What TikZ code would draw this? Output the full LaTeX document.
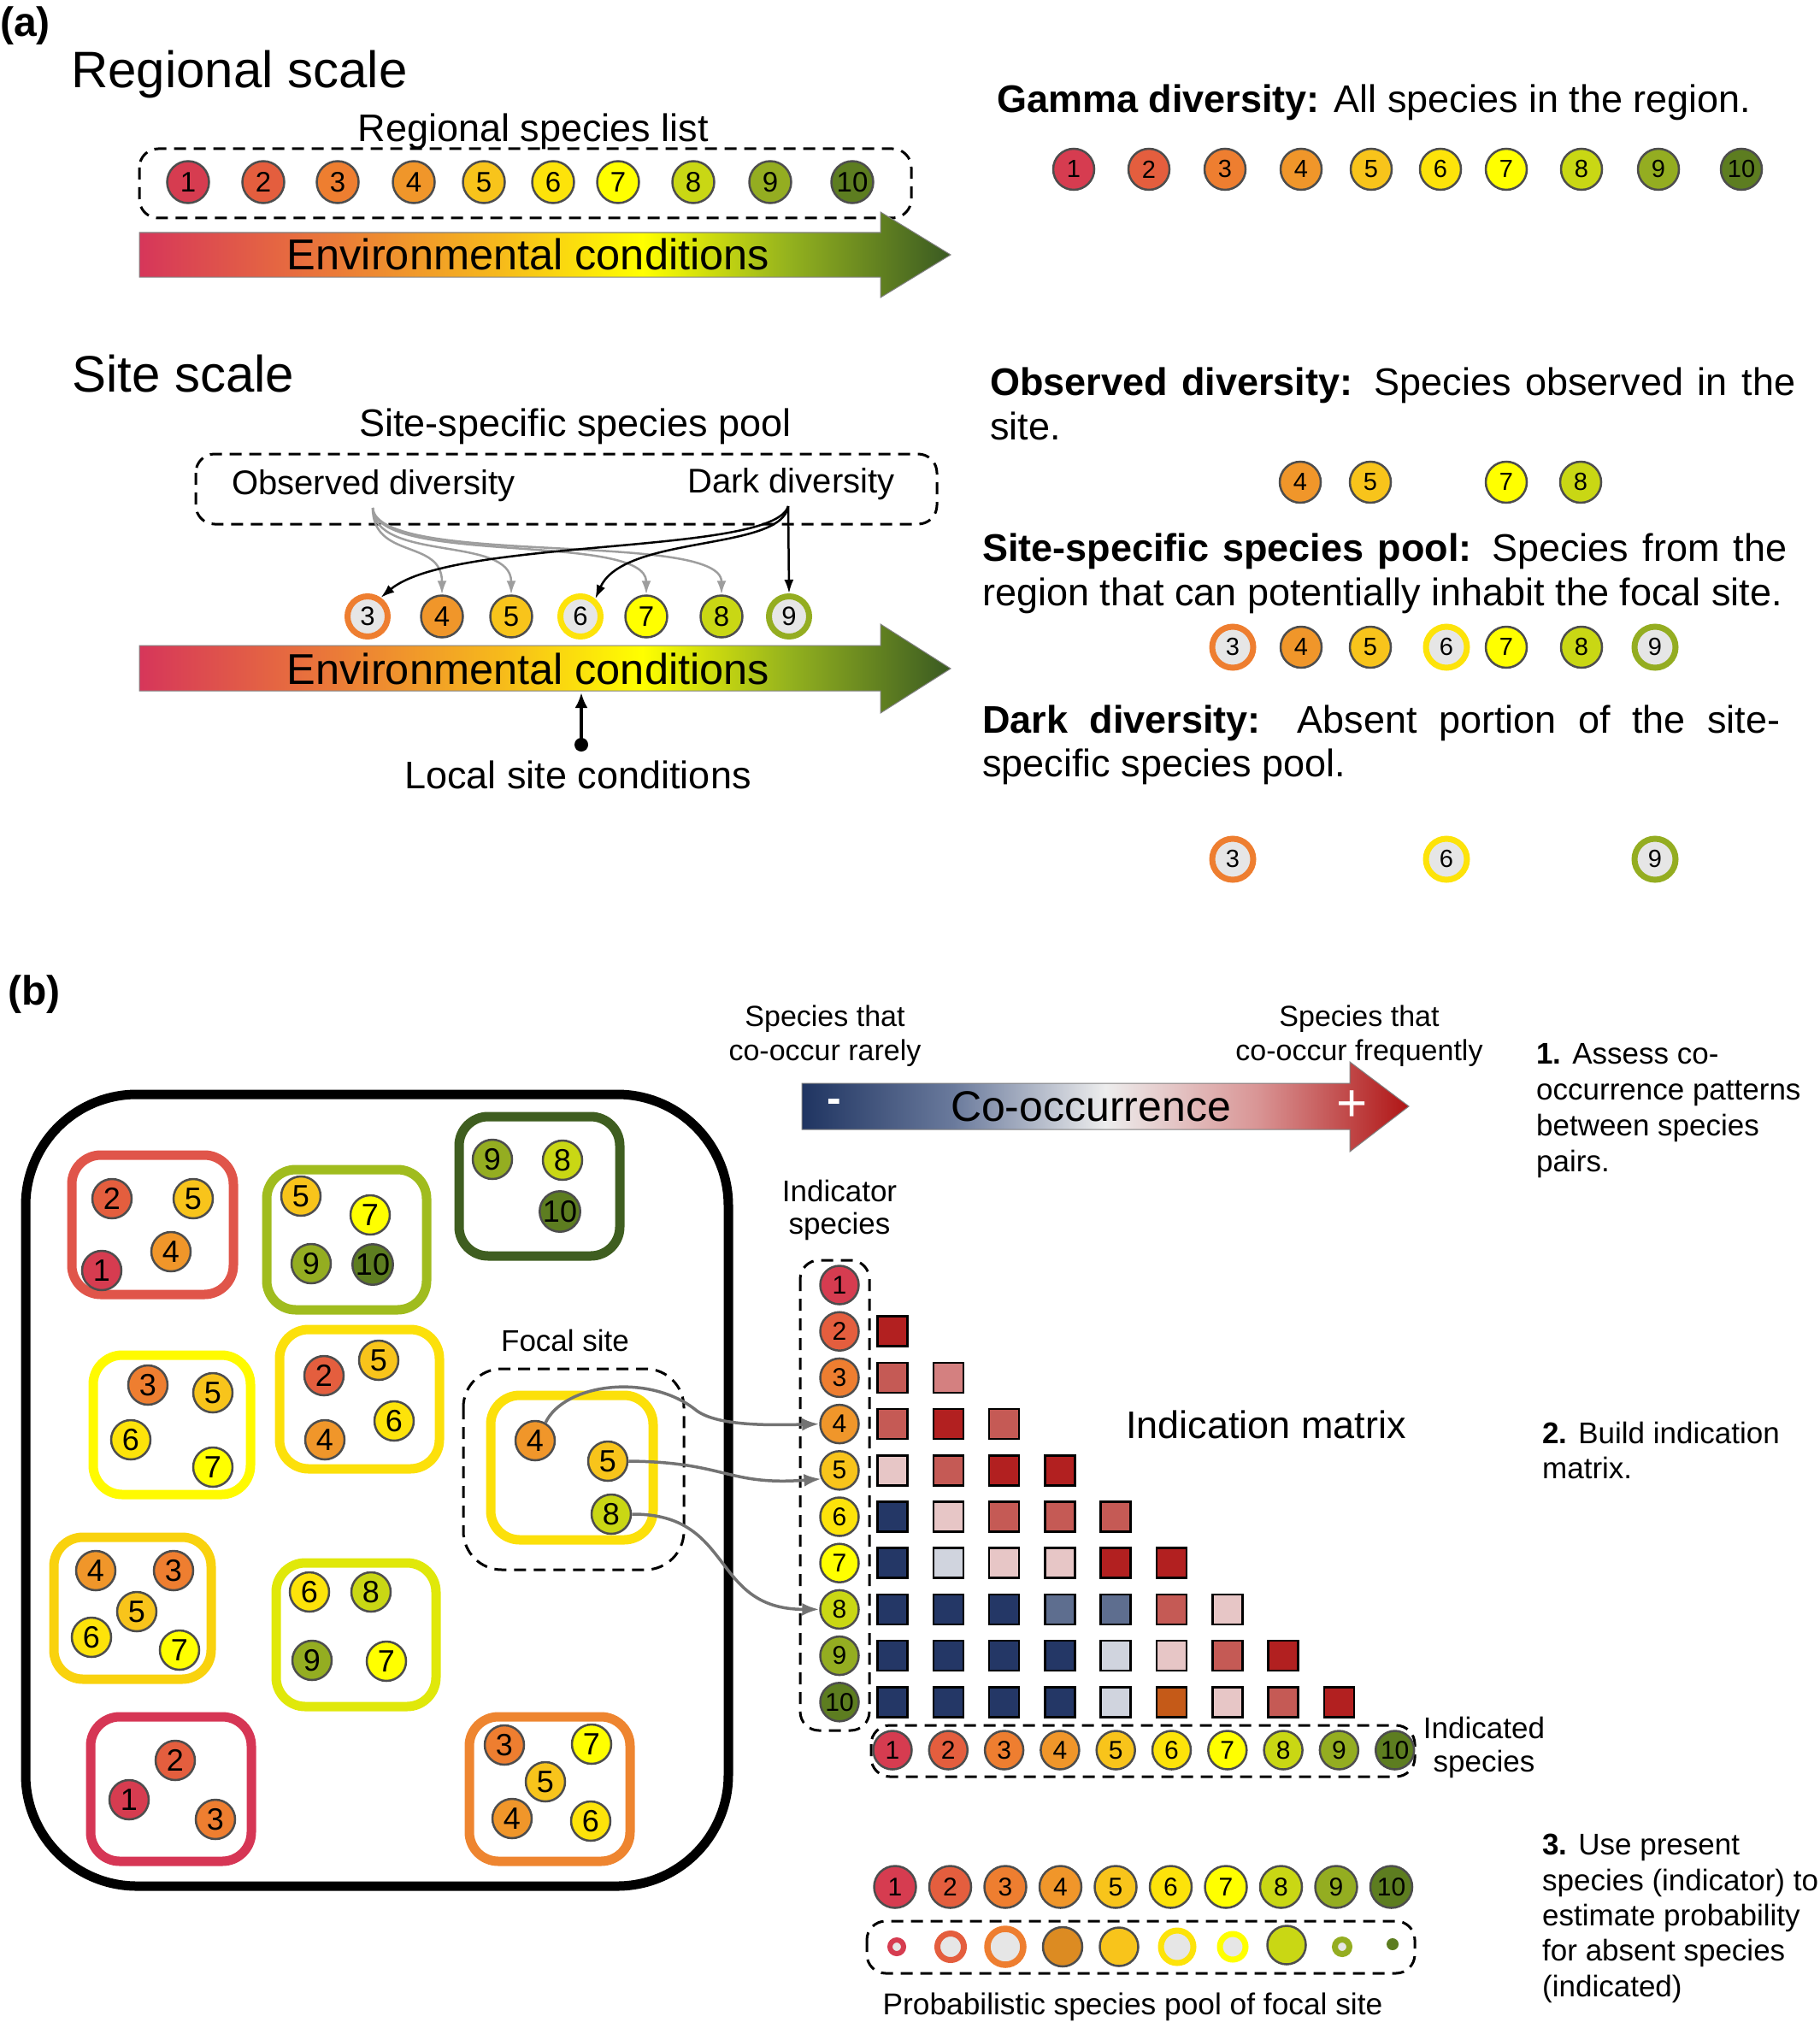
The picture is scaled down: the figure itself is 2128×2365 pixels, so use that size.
\documentclass[tikz,border=0pt]{standalone}
\usepackage{fontspec}
\setmainfont{Liberation Sans}
\usetikzlibrary{arrows.meta}
\newcommand\fsz[2]{\fontsize{#1}{#2}\selectfont}
\definecolor{c1}{HTML}{D63C50}
\definecolor{c2}{HTML}{E45E3E}
\definecolor{c3}{HTML}{EE7E30}
\definecolor{c4}{HTML}{F0962A}
\definecolor{c5}{HTML}{F8C41B}
\definecolor{c6}{HTML}{FDE30A}
\definecolor{c7}{HTML}{FFFF00}
\definecolor{c8}{HTML}{C9D714}
\definecolor{c9}{HTML}{94AD21}
\definecolor{c10}{HTML}{5D7D20}
\definecolor{cgray}{HTML}{4D4D4D}
\definecolor{hol}{HTML}{E6E6E6}
\definecolor{mR}{HTML}{B22020}
\definecolor{mM}{HTML}{C55A55}
\definecolor{mL}{HTML}{D48080}
\definecolor{mP}{HTML}{E7C6C6}
\definecolor{mN}{HTML}{243766}
\definecolor{mS}{HTML}{5E6E8F}
\definecolor{mG}{HTML}{D0D4DE}
\definecolor{mO}{HTML}{C55A18}
\definecolor{p4}{HTML}{DC8B22}
\definecolor{bxRed}{HTML}{E0554A}
\definecolor{bxOlive}{HTML}{A0BC1E}
\definecolor{bxDark}{HTML}{3F5E20}
\definecolor{bxYel}{HTML}{FFFA00}
\definecolor{bxGold}{HTML}{FCE00A}
\definecolor{bxGold2}{HTML}{F9D20E}
\definecolor{bxLime}{HTML}{E0E80A}
\definecolor{bxCrim}{HTML}{D63655}
\definecolor{bxOr}{HTML}{EE8530}
\definecolor{e1}{HTML}{D6365A}
\definecolor{e2}{HTML}{EB7A38}
\definecolor{e3}{HTML}{F6B81C}
\definecolor{e4}{HTML}{FFFF00}
\definecolor{e5}{HTML}{94B21E}
\definecolor{e6}{HTML}{3A5A22}
\pgfdeclarehorizontalshading{envshade}{100bp}{color(0bp)=(e1); color(25bp)=(e1); color(37bp)=(e2); color(47bp)=(e3); color(56bp)=(e4); color(65bp)=(e5); color(75bp)=(e6); color(100bp)=(e6)}
\definecolor{k1}{HTML}{1F3461}
\definecolor{k2}{HTML}{6A7A9C}
\definecolor{k3}{HTML}{EDEDED}
\definecolor{k4}{HTML}{D99595}
\definecolor{k5}{HTML}{B01515}
\pgfdeclarehorizontalshading{cooshade}{100bp}{color(0bp)=(k1); color(25bp)=(k1); color(37.5bp)=(k2); color(50bp)=(k3); color(62.5bp)=(k4); color(75bp)=(k5); color(100bp)=(k5)}
\begin{document}
\begin{tikzpicture}[x=1pt,y=-1pt,
  txt/.style={inner sep=0pt, anchor=base},
  txw/.style={inner sep=0pt, anchor=base west},
  sp/.style={circle, draw=cgray, line width=2.5pt, inner sep=0pt, text=black},
  spA/.style={sp, minimum size=49pt, font=\fsz{33}{33}},
  spR/.style={sp, minimum size=48pt, font=\fsz{29}{29}},
  ringA/.style={circle, fill=hol, line width=7pt, inner sep=0pt, minimum size=47pt, font=\fsz{31}{31}},
  ringR/.style={circle, fill=hol, line width=7pt, inner sep=0pt, minimum size=48pt, font=\fsz{29}{29}},
  spB/.style={sp, minimum size=46pt, font=\fsz{36}{36}},
  spM/.style={sp, minimum size=45pt, font=\fsz{30}{30}},
  spP/.style={sp, minimum size=49pt, font=\fsz{30}{30}},
  ringP/.style={circle, fill=hol, line width=7pt, inner sep=0pt},
  sq/.style={draw=black, line width=2.5pt, minimum size=35pt, inner sep=0pt},
  dbox/.style={draw=black, line width=3pt, dash pattern=on 14pt off 9pt, rounded corners=22pt},
  site/.style={line width=11pt, rounded corners=34pt},
  garr/.style={draw=black!38, line width=2.5pt, -{Latex[length=16pt,width=11pt]}},
  barr/.style={draw=black, line width=2.5pt, -{Latex[length=16pt,width=11pt]}},
  farr/.style={draw=black!55, line width=3.5pt, -{Latex[length=20pt,width=15pt]}},
  stp/.style={txw, font=\fsz{35}{42}},
  rt/.style={txw, font=\fsz{45}{53}}
]
\useasboundingbox (0,0) rectangle (2128,2365);

% ================= Panel (a) =================
\node[txw, font=\bfseries\fsz{48}{48}] (lbla) at (0,43) {(a)};
\node[txw, font=\fsz{60}{60}] (regscale) at (83,103) {Regional scale};
\node[txt, font=\fsz{45}{45}] (reglist) at (624,166) {Regional species list};
\draw[dbox] (163,174) rectangle (1066,255);
\foreach \i/\x in {1/220,2/308,3/395,4/484,5/566,6/647,7/723,8/811,9/901,10/997}
  \node[spA, fill=c\i] (reg\i) at (\x,213) {\i};
\shadedraw[shading=envshade, draw=black!50, line width=1pt] (163,272) -- (1030,272) -- (1030,248) -- (1112,298) -- (1030,348) -- (1030,324) -- (163,324) -- cycle;
\node[txt, font=\fsz{50.5}{50.5}] (env1) at (618,315) {Environmental conditions};

\node[txw, font=\fsz{45}{45}] (gamma) at (1166,132) {\textbf{Gamma diversity:} All species in the region.};
\foreach \i/\x in {1/1256,2/1344,3/1433,4/1522,5/1604,6/1685,7/1762,8/1850,9/1940,10/2037}
  \node[spR, fill=c\i] (gam\i) at (\x,198) {\i};

\node[txw, font=\fsz{60}{60}] (sitescale) at (84,458) {Site scale};
\node[txt, font=\fsz{45}{45}] (poollbl) at (673,510) {Site-specific species pool};
\draw[dbox] (229,531) rectangle (1096,613);
\node[txw, font=\fsz{40}{40}] (obsd) at (271,578) {Observed diversity};
\node[txw, font=\fsz{40}{40}] (darkd) at (804,576) {Dark diversity};
\node[ringA, draw=c3] (a3) at (430,721) {3};
\node[spA, fill=c4] (a4) at (517,721) {4};
\node[spA, fill=c5] (a5) at (598,721) {5};
\node[ringA, draw=c6] (a6) at (679,721) {6};
\node[spA, fill=c7] (a7) at (756,721) {7};
\node[spA, fill=c8] (a8) at (844,721) {8};
\node[ringA, draw=c9] (a9) at (923,721) {9};
\coordinate (obsS) at (436,594);
\coordinate (darkS) at (922,592);
\draw[garr] (obsS) .. controls (436,655) and (517,630) .. (a4.north);
\draw[garr] (obsS) .. controls (438,658) and (598,626) .. (a5.north);
\draw[garr] (obsS) .. controls (440,662) and (756,622) .. (a7.north);
\draw[garr] (obsS) .. controls (442,664) and (844,620) .. (a8.north);
\draw[barr] (darkS) -- (a9.north);
\draw[barr] (darkS) .. controls (915,645) and (730,625) .. (a6.50);
\draw[barr] (darkS) .. controls (905,650) and (530,628) .. (a3.55);
\shadedraw[shading=envshade, draw=black!50, line width=1pt] (163,755) -- (1030,755) -- (1030,730) -- (1112,782) -- (1030,834) -- (1030,808) -- (163,808) -- cycle;
\node[txt, font=\fsz{50.5}{50.5}] (env2) at (618,800) {Environmental conditions};
\coordinate (lsc) at (680,871);
\coordinate (envB) at (680,810);
\fill (lsc) circle (8pt);
\draw[line width=4pt, -{Latex[length=18pt,width=15pt]}] (lsc) -- (envB);
\node[txt, font=\fsz{45}{45}] (localc) at (676,922) {Local site conditions};

\node[rt] (r1) at (1158,462) {\makebox[942pt][s]{\textbf{Observed diversity:} Species observed in the}};
\node[rt] (r2) at (1158,514) {site.};
\foreach \i/\x in {4/1521,5/1603,7/1762,8/1849}
  \node[spR, fill=c\i] (ob\i) at (\x,564) {\i};
\node[rt] (r3) at (1149,656) {\makebox[941pt][s]{\textbf{Site-specific species pool:} Species from the}};
\node[rt] (r4) at (1149,708) {region that can potentially inhabit the focal site.};
\node[ringR, draw=c3] (pl3) at (1442,757) {3};
\node[spR, fill=c4] (pl4) at (1522,757) {4};
\node[spR, fill=c5] (pl5) at (1603,757) {5};
\node[ringR, draw=c6] (pl6) at (1692,757) {6};
\node[spR, fill=c7] (pl7) at (1762,757) {7};
\node[spR, fill=c8] (pl8) at (1850,757) {8};
\node[ringR, draw=c9] (pl9) at (1936,757) {9};
\node[rt] (r5) at (1149,857) {\makebox[933pt][s]{\textbf{Dark diversity:} Absent portion of the site-}};
\node[rt] (r6) at (1149,908) {specific species pool.};
\node[ringR, draw=c3] (dk3) at (1442,1005) {3};
\node[ringR, draw=c6] (dk6) at (1692,1005) {6};
\node[ringR, draw=c9] (dk9) at (1936,1005) {9};

% ================= Panel (b) =================
\node[txw, font=\bfseries\fsz{48}{48}] (lblb) at (9,1175) {(b)};
\node[txt, font=\fsz{34}{34}] (sr1) at (965,1200) {Species that};
\node[txt, font=\fsz{34}{34}] (sr2) at (965,1240) {co-occur rarely};
\node[txt, font=\fsz{34}{34}] (sf1) at (1590,1200) {Species that};
\node[txt, font=\fsz{34}{34}] (sf2) at (1590,1240) {co-occur frequently};
\shadedraw[shading=cooshade, draw=black!50, line width=1pt] (938,1267) -- (1579,1267) -- (1579,1242) -- (1648,1294) -- (1579,1347) -- (1579,1321) -- (938,1321) -- cycle;
\node[font=\bfseries\fsz{50}{50}, text=white, inner sep=0pt] (minus) at (976,1294) {-};
\node[font=\fsz{62}{62}, text=white, inner sep=0pt] (plus) at (1582,1294) {+};
\node[txt, font=\fsz{50}{50}] (cooc) at (1276,1311) {Co-occurrence};

\draw[line width=11pt, rounded corners=130pt] (30,1280) rectangle (852,2206);

% sites
\draw[site, draw=bxRed] (84,1351) rectangle (273,1514);
\foreach \n/\x/\y [count=\k] in {2/131/1402,5/226/1402,4/200/1464,1/119/1486}
  \node[spB, fill=c\n] (sA\k) at (\x,\y) {\n};
\draw[site, draw=bxOlive] (312,1368) rectangle (499,1532);
\foreach \n/\x/\y [count=\k] in {5/352/1399,7/433/1421,9/364/1478,10/436/1479}
  \node[spB, fill=c\n] (sB\k) at (\x,\y) {\n};
\draw[site, draw=bxDark] (537,1306) rectangle (725,1469);
\foreach \n/\x/\y [count=\k] in {9/576/1356,8/658/1357,10/655/1417}
  \node[spB, fill=c\n] (sC\k) at (\x,\y) {\n};
\draw[site, draw=bxYel] (109,1585) rectangle (293,1748);
\foreach \n/\x/\y [count=\k] in {3/173/1620,5/249/1629,6/153/1684,7/249/1716}
  \node[spB, fill=c\n] (sD\k) at (\x,\y) {\n};
\draw[site, draw=bxGold] (327,1555) rectangle (514,1718);
\foreach \n/\x/\y [count=\k] in {2/379/1609,5/443/1591,6/461/1662,4/380/1684}
  \node[spB, fill=c\n] (sE\k) at (\x,\y) {\n};
\draw[site, draw=bxGold2] (63,1798) rectangle (247,1964);
\foreach \n/\x/\y [count=\k] in {4/112/1837,3/203/1837,5/160/1885,6/107/1915,7/210/1930}
  \node[spB, fill=c\n] (sF\k) at (\x,\y) {\n};
\draw[site, draw=bxLime] (323,1828) rectangle (510,1996);
\foreach \n/\x/\y [count=\k] in {6/362/1862,8/434/1862,9/365/1942,7/452/1943}
  \node[spB, fill=c\n] (sG\k) at (\x,\y) {\n};
\draw[site, draw=bxCrim] (106,2008) rectangle (294,2177);
\foreach \n/\x/\y [count=\k] in {2/205/2059,1/151/2105,3/252/2128}
  \node[spB, fill=c\n] (sH\k) at (\x,\y) {\n};
\draw[site, draw=bxOr] (549,2008) rectangle (737,2177);
\foreach \n/\x/\y [count=\k] in {3/590/2041,7/692/2040,5/638/2084,4/599/2127,6/691/2130}
  \node[spB, fill=c\n] (sI\k) at (\x,\y) {\n};

% focal site
\node[txt, font=\fsz{35}{35}] (focal) at (661,1580) {Focal site};
\draw[dbox, rounded corners=45pt] (542,1601) rectangle (800,1836);
\draw[site, draw=bxGold] (574,1632) rectangle (764,1801);
\node[spB, fill=c4] (f4) at (626,1685) {4};
\node[spB, fill=c5] (f5) at (711,1709) {5};
\node[spB, fill=c8] (f8) at (715,1771) {8};

% indicator species
\node[txt, font=\fsz{35}{35}] (ind1l) at (982,1405) {Indicator};
\node[txt, font=\fsz{35}{35}] (ind2l) at (982,1443) {species};
\draw[dbox] (936,1474) rectangle (1017,2024);
\foreach \i in {1,...,10}
  \node[spM, fill=c\i] (ind\i) at (982,{1503+(\i-1)*54.2}) {\i};

% matrix
\foreach \r/\cols in {2/{mR},3/{mM,mL},4/{mM,mR,mM},5/{mP,mM,mR,mR},6/{mN,mP,mM,mM,mM},7/{mN,mG,mP,mP,mR,mR},8/{mN,mN,mN,mS,mS,mM,mP},9/{mN,mN,mN,mN,mG,mP,mM,mR},10/{mN,mN,mN,mN,mG,mO,mP,mM,mR}}
  \foreach \c [count=\j] in \cols
    \node[sq, fill=\c] (m\r-\j) at ({1044+(\j-1)*65.3},{1503+(\r-1)*54.2}) {};
\node[txw, font=\fsz{45}{45}] (indm) at (1317,1682) {Indication matrix};

% indicated species
\draw[dbox] (1019,2018) rectangle (1655,2078);
\foreach \i in {1,...,10}
  \node[spM, fill=c\i] (idd\i) at ({1044+(\i-1)*65.3},2047) {\i};
\node[txt, font=\fsz{35}{35}] (idl1) at (1736,2033) {Indicated};
\node[txt, font=\fsz{35}{35}] (idl2) at (1736,2072) {species};

% focal arrows
\draw[farr] (f4.60) .. controls (660,1618) and (760,1605) .. (815,1650) .. controls (840,1668) and (900,1667) .. (ind4.west);
\draw[farr] (f5.east) .. controls (850,1710) and (850,1738) .. (ind5.205);
\draw[farr] (f8.east) .. controls (860,1770) and (830,1882) .. (ind8.west);

% steps
\node[stp] (s1a) at (1797,1244) {\textbf{1.} Assess co-};
\node[stp] (s1b) at (1797,1286) {occurrence patterns};
\node[stp] (s1c) at (1797,1328) {between species};
\node[stp] (s1d) at (1797,1370) {pairs.};
\node[stp] (s2a) at (1804,1688) {\textbf{2.} Build indication};
\node[stp] (s2b) at (1804,1729) {matrix.};
\node[stp] (s3a) at (1804,2169) {\textbf{3.} Use present};
\node[stp] (s3b) at (1804,2211) {species (indicator) to};
\node[stp] (s3c) at (1804,2252) {estimate probability};
\node[stp] (s3d) at (1804,2293) {for absent species};
\node[stp] (s3e) at (1804,2335) {(indicated)};

% probabilistic pool
\foreach \i in {1,...,10}
  \node[spP, fill=c\i] (pp\i) at ({1047+(\i-1)*64.5},2207) {\i};
\draw[dbox] (1014,2247) rectangle (1655,2308);
\node[ringP, draw=c1, line width=6pt, minimum size=16pt] (q1) at (1049,2277) {};
\node[ringP, draw=c2, minimum size=31pt] (q2) at (1112,2277) {};
\node[ringP, draw=c3, line width=7.5pt, minimum size=42pt] (q3) at (1176,2277) {};
\node[sp, fill=p4, minimum size=46pt] (q4) at (1243,2277) {};
\node[sp, fill=c5, minimum size=45pt] (q5) at (1309,2277) {};
\node[ringP, draw=c6, minimum size=38pt] (q6) at (1377,2277) {};
\node[ringP, draw=c7, minimum size=30pt] (q7) at (1442,2277) {};
\node[sp, fill=c8, minimum size=45pt] (q8) at (1505,2275) {};
\node[ringP, draw=c9, minimum size=17pt] (q9) at (1570,2277) {};
\node[circle, fill=c10, minimum size=14pt, inner sep=0pt] (q10) at (1629,2274) {};
\node[txt, font=\fsz{35.3}{35.3}] (probl) at (1325,2356) {Probabilistic species pool of focal site};
\end{tikzpicture}
\end{document}
